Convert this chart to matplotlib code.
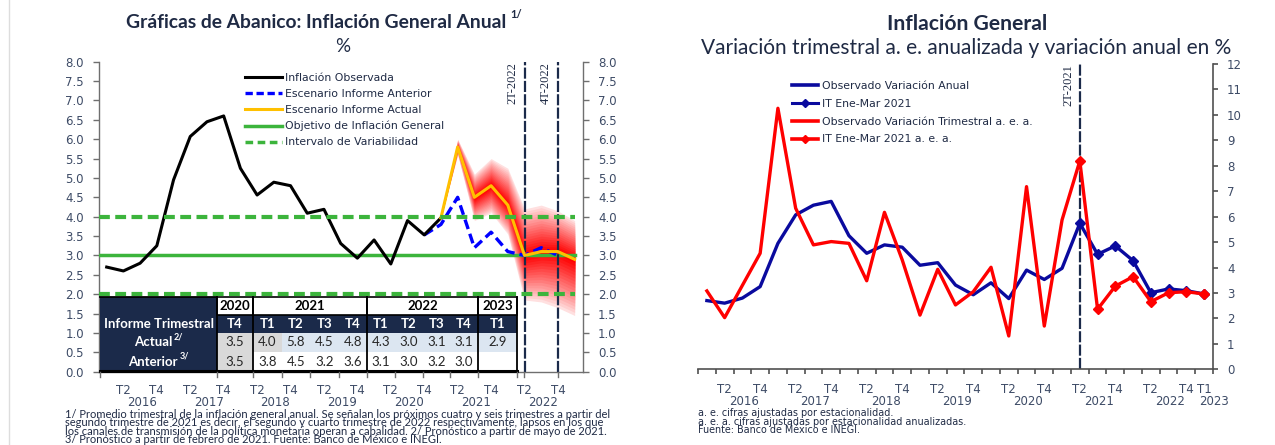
import numpy as np
import matplotlib
matplotlib.use('Agg')
import matplotlib.pyplot as plt
from matplotlib.patches import Rectangle
from matplotlib.lines import Line2D
import matplotlib.transforms as mtransforms

# ---------------- data ----------------
# quarter index: 0 = 2016 T1 ... 28 = 2023 T1
years = ['2016', '2017', '2018', '2019', '2020', '2021', '2022']
# left chart
observed = [2.7, 2.6, 2.8, 3.25, 4.95, 6.07, 6.45, 6.6, 5.25, 4.56, 4.89, 4.8,
            4.09, 4.19, 3.31, 2.93, 3.4, 2.78, 3.9, 3.53, 3.97]          # idx 0..20
escenario_actual = [3.97, 5.8, 4.5, 4.8, 4.3, 3.0, 3.1, 3.1, 2.9]          # idx 20..28
escenario_anterior = [3.53, 3.8, 4.5, 3.2, 3.6, 3.1, 3.0, 3.2, 3.0]        # idx 19..27
fan_upper = [3.97, 6.0, 5.1, 5.5, 5.25, 4.2, 4.3, 4.15, 3.9]               # idx 20..28
fan_lower = [3.97, 5.6, 3.9, 4.1, 3.55, 1.85, 1.8, 1.65, 1.45]
objetivo = 3.0
intervalo = [2.0, 4.0]
lineas_v_left = [25, 27]
lineas_v_left_lab = ['2T-2022', '4T-2022']

table_years = ['2020', '2021', '2022', '2023']
table_year_span = [1, 4, 4, 1]
table_quarters = ['T4', 'T1', 'T2', 'T3', 'T4', 'T1', 'T2', 'T3', 'T4', 'T1']
table_actual = ['3.5', '4.0', '5.8', '4.5', '4.8', '4.3', '3.0', '3.1', '3.1', '2.9']
table_anterior = ['3.5', '3.8', '4.5', '3.2', '3.6', '3.1', '3.0', '3.2', '3.0', '']

# right chart
obs_anual = observed
obs_trim = [3.08, 2.03, 3.3, 4.56, 10.26, 6.33, 4.89, 5.02, 4.95, 3.48, 6.17, 4.3,
            2.13, 3.93, 2.53, 3.05, 4.01, 1.31, 7.18, 1.70, 5.87]         # idx 0..20
it_anual = [5.74, 4.52, 4.85, 4.27, 3.01, 3.16, 3.09, 2.96]                 # idx 21..28
it_trim = [8.19, 2.36, 3.27, 3.64, 2.66, 3.01, 3.05, 2.96]                  # idx 21..28
linea_v_right = 21

# ---------------- style ----------------
W, H = 1275, 445
TXT = '#1f2a44'
TICK = '#3d4b66'
NAVY = '#1b2a4a'
GREEN = '#3cb43c'
ORANGE = '#ffc000'
BLUE_D = '#0000ff'
BLUE_R = '#0a0a9e'
RED = '#ff0000'
SPINE = '#6f6f6f'

fig = plt.figure(figsize=(W / 100, H / 100), dpi=100)


def fx(px):
    return px / W


def fy(py):
    return 1 - py / H


fig.add_artist(Line2D([fx(9), fx(9)], [0, 1], color='#dddddd', lw=1))

# ================= LEFT CHART =================
ax1 = fig.add_axes([fx(99), fy(371.7), 484 / W, 310 / H])
ax1.set_xlim(-0.46, 28.5)
ax1.set_ylim(0, 8)

# fan
xf = np.arange(20, 20 + len(escenario_actual))
c = np.array(escenario_actual)
up = np.array(fan_upper)
lo = np.array(fan_lower)
N = 18
light = np.array([1.0, 0.88, 0.88])
dark = np.array([1.0, 0.0, 0.0])
for i in range(N):
    f = 1 - i / N
    t = (i / (N - 1)) ** 0.9
    col = light * (1 - t) + dark * t
    ax1.fill_between(xf, c - (c - lo) * f, c + (up - c) * f, color=col, lw=0, zorder=1)

# target and interval lines
ax1.plot([-0.46, 28], [objetivo, objetivo], color=GREEN, lw=2.5, zorder=3)
for v in intervalo:
    ax1.plot([-0.46, 28], [v, v], color=GREEN, lw=3, ls=(0, (2.6, 1.3)), zorder=8)

# vertical lines
for xv, lab in zip(lineas_v_left, lineas_v_left_lab):
    ax1.plot([xv, xv], [0, 8], color=NAVY, lw=1.6, ls=(0, (5, 1)), zorder=4)
    ax1.text(xv - 0.7, 7.98, lab, rotation=90, ha='center', va='top',
             family='Liberation Serif', fontsize=9, color=TXT)

# series
ax1.plot(np.arange(len(observed)), observed, color='black', lw=2.2, zorder=6)
ax1.plot(np.arange(19, 19 + len(escenario_anterior)), escenario_anterior,
         color=BLUE_D, lw=2.4, ls=(0, (3.0, 1.5)), zorder=5)
ax1.plot(xf, escenario_actual, color=ORANGE, lw=2.2, zorder=6)

# axes cosmetics
ax1.spines['top'].set_visible(False)
for s in ['left', 'right', 'bottom']:
    ax1.spines[s].set_color(SPINE)
    ax1.spines[s].set_linewidth(1)
yt = np.arange(0, 8.01, 0.5)
ax1.set_yticks(yt)
ax1.set_yticklabels([f'{v:.1f}' for v in yt])
ax1.tick_params(axis='y', which='both', left=True, right=True, labelleft=True,
                labelright=True, direction='out', length=4.3, width=1,
                color=SPINE, labelsize=8.5, labelcolor=TICK, pad=6.5)
tpos = [1 + 2 * k for k in range(14)]
ax1.set_xticks(tpos)
ax1.set_xticklabels(['T2' if k % 2 == 0 else 'T4' for k in range(14)])
ax1.tick_params(axis='x', length=0, labelsize=8.5, labelcolor=TICK, pad=9.0)
blend1 = mtransforms.blended_transform_factory(ax1.transData, ax1.transAxes)
for k, y in enumerate(years):
    ax1.text(4 * k + 2.1, (371.7 - 402) / 310, y, transform=blend1, ha='center',
             va='center', fontsize=8.5, color=TICK)

# table (layout in axes fraction)
cols_px = [100, 217, 253, 281.5, 310, 338.5, 367, 394.75, 422.5, 450.25, 478, 517]
rows_py = [296.7, 315, 333, 352, 371.7]
cx = [(p - 99) / 484 for p in cols_px]
ry = [(371.7 - p) / 310 for p in rows_py]
T = ax1.transAxes


def rect(x0, x1, y0, y1, fc, ec='none', lw=0, z=7):
    ax1.add_patch(Rectangle((x0, y1), x1 - x0, y0 - y1, transform=T, fc=fc,
                            ec=ec, lw=lw, zorder=z, clip_on=False))


rect(cx[0], cx[1], ry[0], ry[4], NAVY)
rect(cx[1], cx[-1], ry[1], ry[2], NAVY)
ci = 1
for yl, span in zip(table_years, table_year_span):
    x0, x1 = cx[ci], cx[ci + span]
    rect(x0, x1, ry[0], ry[1], 'white', ec='black', lw=1.2)
    ax1.text((x0 + x1) / 2, (ry[0] + ry[1]) / 2, yl, transform=T, ha='center',
             va='center', family='Lato', fontweight='bold', fontsize=9.5,
             color='black', zorder=9)
    ci += span
for j, q in enumerate(table_quarters):
    x0, x1 = cx[j + 1], cx[j + 2]
    fc3 = '#d9d9d9' if j < 2 else '#dce6f1'
    fc4 = '#d9d9d9' if j < 1 else 'white'
    rect(x0, x1, ry[2], ry[3], fc3)
    rect(x0, x1, ry[3], ry[4], fc4)
    xm = (x0 + x1) / 2
    ax1.text(xm, (ry[1] + ry[2]) / 2, q, transform=T, ha='center', va='center',
             family='Lato', fontweight='bold', fontsize=9.5, color='white', zorder=9)
    ax1.text(xm, (ry[2] + ry[3]) / 2, table_actual[j], transform=T, ha='center',
             va='center', family='Lato', fontsize=9.5, color='#262626', zorder=9)
    ax1.text(xm, (ry[3] + ry[4]) / 2, table_anterior[j], transform=T, ha='center',
             va='center', family='Lato', fontsize=9.5, color='#262626', zorder=9)
for bx in [cx[1], cx[2], cx[6], cx[10], cx[11]]:
    ax1.add_artist(Line2D([bx, bx], [ry[4], ry[0]], transform=T, color='black',
                          lw=1.3, zorder=8, clip_on=False))
ax1.add_artist(Line2D([cx[0], cx[-1]], [0.003, 0.003], transform=T, color='black',
                      lw=2.2, zorder=8, clip_on=False))
ax1.add_artist(Line2D([cx[0], cx[1]], [ry[0], ry[0]], transform=T, color='black',
                      lw=1.3, zorder=8, clip_on=False))
for bx in cx + [(524 - 99) / 484, (557.7 - 99) / 484]:
    ax1.add_artist(Line2D([bx, bx], [0, -0.018], transform=T, color=SPINE,
                          lw=1, zorder=8, clip_on=False))
ax1.text((159 - 99) / 484, (ry[1] + ry[2]) / 2, 'Informe Trimestral', transform=T,
         ha='center', va='center', family='Lato', fontweight='bold', fontsize=9.5,
         color='white', zorder=9)
ax1.text((172 - 99) / 484, (ry[2] + ry[3]) / 2, 'Actual', transform=T, ha='right',
         va='center', family='Lato', fontweight='bold', fontsize=9.5, color='white', zorder=9)
ax1.text((174 - 99) / 484, (ry[2] + ry[3]) / 2 + 0.018, '2/', transform=T, ha='left',
         va='center', family='Lato', fontweight='bold', fontsize=6.5, color='white', zorder=9)
ax1.text((178 - 99) / 484, (ry[3] + ry[4]) / 2, 'Anterior', transform=T, ha='right',
         va='center', family='Lato', fontweight='bold', fontsize=9.5, color='white', zorder=9)
ax1.text((180 - 99) / 484, (ry[3] + ry[4]) / 2 + 0.018, '3/', transform=T, ha='left',
         va='center', family='Lato', fontweight='bold', fontsize=6.5, color='white', zorder=9)

# legend
h1 = [Line2D([], [], color='black', lw=2.2),
      Line2D([], [], color=BLUE_D, lw=2.4, ls=(0, (2.2, 1.1))),
      Line2D([], [], color=ORANGE, lw=2.2),
      Line2D([], [], color=GREEN, lw=2.5),
      Line2D([], [], color=GREEN, lw=2.5, ls=(0, (2.2, 1.3)))]
l1 = ['Inflación Observada', 'Escenario Informe Anterior', 'Escenario Informe Actual',
      'Objetivo de Inflación General', 'Intervalo de Variabilidad']
leg1 = ax1.legend(h1, l1, loc='upper left', bbox_to_anchor=((245 - 99) / 484, (371.7 - 73) / 310),
                  frameon=False, fontsize=7.8, handlelength=3.4, handletextpad=0.3,
                  labelspacing=0.55, borderpad=0, borderaxespad=0)
leg1.set_zorder(20)
for t in leg1.get_texts():
    t.set_color(TXT)

# titles & footnote
r = fig.canvas.get_renderer()
t1 = fig.text(fx(316), fy(22), 'Gráficas de Abanico: Inflación General Anual', ha='center',
              va='center', family='Lato', fontweight='bold', fontsize=13.9, color=TXT)
bb = t1.get_window_extent(r)
fig.text((bb.x1 + 4) / W, fy(15), '1/', ha='left', va='center', family='Lato',
         fontweight='bold', fontsize=8, color=TXT)
fig.text(fx(343), fy(47), '%', ha='center', va='center', family='Lato', fontsize=13.5, color=TXT)
foot1 = ('1/ Promedio trimestral de la inflación general anual. Se señalan los próximos cuatro y seis trimestres a partir del\n'
         'segundo trimestre de 2021 es decir, el segundo y cuarto trimestre de 2022 respectivamente, lapsos en los que\n'
         'los canales de transmisión de la política monetaria operan a cabalidad. 2/ Pronóstico a partir de mayo de 2021.\n'
         '3/ Pronóstico a partir de febrero de 2021. Fuente: Banco de México e INEGI.')
fig.text(fx(65), fy(409), foot1, ha='left', va='top', family='Lato', fontsize=8.0,
         color=TXT, linespacing=0.72)

# ================= RIGHT CHART =================
ax2 = fig.add_axes([fx(698), fy(369.3), 515 / W, 305.3 / H])
ax2.set_xlim(-0.5, 28.5)
ax2.set_ylim(0, 12)

ax2.plot([linea_v_right, linea_v_right], [0, 12], color=NAVY, lw=1.6,
         ls=(0, (5, 1)), zorder=2)
ax2.text(linea_v_right - 0.66, 11.98, '2T-2021', rotation=90, ha='center', va='top',
         family='Liberation Serif', fontsize=9, color=TXT)

xo = np.arange(len(obs_anual) + 1)
xi = np.arange(21, 21 + len(it_anual))
ax2.plot(xo, list(obs_anual) + [it_anual[0]], color=BLUE_R, lw=2.4, zorder=4)
ax2.plot(xi, it_anual, color=BLUE_R, lw=2.4, marker='D', ms=5.5, zorder=4)
ax2.plot(xo, list(obs_trim) + [it_trim[0]], color=RED, lw=2.4, zorder=5)
ax2.plot(xi, it_trim, color=RED, lw=2.4, marker='D', ms=5.5, zorder=5)

ax2.spines['top'].set_visible(False)
ax2.spines['left'].set_visible(False)
for s in ['right', 'bottom']:
    ax2.spines[s].set_color('#505050')
    ax2.spines[s].set_linewidth(1.2)
ax2.yaxis.tick_right()
ax2.set_yticks(range(0, 13))
ax2.tick_params(axis='y', direction='out', length=3.6, width=1.2, color='#505050',
                labelsize=8.5, labelcolor=TICK, pad=6.5)
ax2.set_xticks(np.arange(-0.5, 28.6, 1.0))
ax2.set_xticklabels([])
ax2.tick_params(axis='x', which='major', direction='out', length=3.6, width=1.2,
                color='#505050')
rpos = [1 + 2 * k for k in range(13)] + [27, 28]
rlab = ['T2' if k % 2 == 0 else 'T4' for k in range(13)] + ['T4', 'T1']
ax2.set_xticks(rpos, minor=True)
ax2.set_xticklabels(rlab, minor=True)
ax2.tick_params(axis='x', which='minor', length=0, labelsize=8.5, labelcolor=TICK, pad=10)
blend2 = mtransforms.blended_transform_factory(ax2.transData, ax2.transAxes)
for k, y in enumerate(years + ['2023']):
    xp = 4 * k + 2.1 if k < 7 else 28.55
    ax2.text(xp, (369.3 - 401.5) / 305.3, y, transform=blend2, ha='center',
             va='center', fontsize=8.5, color=TICK)

h2 = [Line2D([], [], color=BLUE_R, lw=2.6),
      Line2D([], [], color=BLUE_R, lw=2.2, marker='D', ms=4),
      Line2D([], [], color=RED, lw=2.6),
      Line2D([], [], color=RED, lw=2.6, marker='D', ms=4)]
l2 = ['Observado Variación Anual', 'IT Ene-Mar 2021',
      'Observado Variación Trimestral a. e. a.', 'IT Ene-Mar 2021 a. e. a.']
leg2 = ax2.legend(h2, l2, loc='upper left', bbox_to_anchor=((792 - 698) / 515, (369.3 - 81) / 305.3),
                  frameon=False, fontsize=7.8, handlelength=2.4, handletextpad=0.35,
                  labelspacing=0.72, borderpad=0, borderaxespad=0)
for t in leg2.get_texts():
    t.set_color(TXT)

fig.text(fx(967), fy(24), 'Inflación General', ha='center', va='center', family='Lato',
         fontweight='bold', fontsize=15.2, color=TXT)
fig.text(fx(966), fy(48), 'Variación trimestral a. e. anualizada y variación anual en %',
         ha='center', va='center', family='Lato', fontsize=15, color=TXT)
foot2 = ('a. e. cifras ajustadas por estacionalidad.\n'
         'a. e. a. cifras ajustadas por estacionalidad anualizadas.\n'
         'Fuente: Banco de México e INEGI.')
fig.text(fx(698), fy(408.5), foot2, ha='left', va='top', fontsize=6.9, color=TXT,
         linespacing=0.8)

fig.savefig('out.png', dpi=100)
